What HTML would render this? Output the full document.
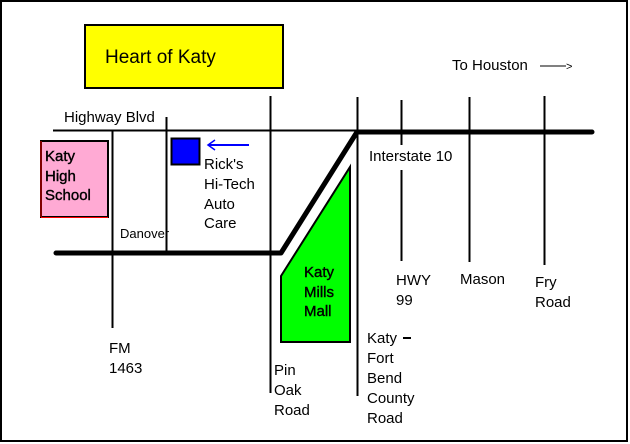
<!DOCTYPE html>
<html><head><meta charset="utf-8"><style>
html,body{margin:0;padding:0;background:#fff;}
svg{display:block;}
text{font-family:"Liberation Sans",Arial,sans-serif;font-size:15px;fill:#000;}
.m{stroke:#000;stroke-width:0.4;}
</style></head><body>
<svg width="630" height="444" viewBox="0 0 630 444" xmlns="http://www.w3.org/2000/svg">
<rect x="0" y="0" width="630" height="444" fill="#fff"/>
<rect x="1" y="1" width="626" height="440" fill="none" stroke="#000" stroke-width="2"/>
<rect x="85" y="25" width="198" height="63" fill="#ffff00" stroke="#000" stroke-width="2"/>
<text x="105" y="63" style="font-size:19px">Heart of Katy</text>
<text x="452" y="70">To Houston</text>
<line x1="540" y1="66" x2="566" y2="66" stroke="#000" stroke-width="1"/>
<text x="566" y="70" style="font-size:11px">&gt;</text>
<text x="64" y="122">Highway Blvd</text>
<line x1="53" y1="130.5" x2="360" y2="130.5" stroke="#000" stroke-width="2"/>
<line x1="112.5" y1="130" x2="112.5" y2="328" stroke="#000" stroke-width="2"/>
<line x1="166.5" y1="117" x2="166.5" y2="253" stroke="#000" stroke-width="2"/>
<line x1="270.5" y1="96" x2="270.5" y2="393" stroke="#000" stroke-width="2"/>
<line x1="357.5" y1="97" x2="357.5" y2="396" stroke="#000" stroke-width="2"/>
<line x1="401.5" y1="100" x2="401.5" y2="145" stroke="#000" stroke-width="2"/>
<line x1="401.5" y1="170" x2="401.5" y2="261" stroke="#000" stroke-width="2"/>
<line x1="469.5" y1="97" x2="469.5" y2="262" stroke="#000" stroke-width="2"/>
<line x1="544.5" y1="96" x2="544.5" y2="265" stroke="#000" stroke-width="2"/>
<polyline points="56,253 281,253 357,132 592,132" fill="none" stroke="#000" stroke-width="5" stroke-linejoin="round" stroke-linecap="round"/>
<rect x="41" y="141" width="67" height="76" fill="#ffaad4" stroke="#000" stroke-width="2"/>
<line x1="41" y1="141" x2="41" y2="217" stroke="#f00" stroke-width="1"/>
<line x1="41" y1="217.5" x2="108" y2="217.5" stroke="#f00" stroke-width="1"/>
<text x="45" y="161" class="m">Katy</text>
<text x="45" y="181" class="m">High</text>
<text x="45" y="200" class="m">School</text>
<rect x="171.5" y="138.5" width="28" height="26" fill="#0000ff" stroke="#000" stroke-width="2"/>
<line x1="208" y1="145" x2="249" y2="145" stroke="#0000ff" stroke-width="2"/>
<polyline points="215,140 208,145 215,150" fill="none" stroke="#0000ff" stroke-width="1.5"/>
<text x="204" y="169">Rick's</text>
<text x="204" y="189">Hi-Tech</text>
<text x="204" y="209">Auto</text>
<text x="204" y="228">Care</text>
<text x="120" y="238" style="font-size:13px">Danover</text>
<polygon points="281,276 350,167 350,342 281,342" fill="#00ff00" stroke="#000" stroke-width="2"/>
<text x="304" y="277" class="m">Katy</text>
<text x="304" y="297" class="m">Mills</text>
<text x="304" y="316" class="m">Mall</text>
<text x="369" y="161">Interstate 10</text>
<text x="396" y="285">HWY</text>
<text x="396" y="305">99</text>
<text x="460" y="284">Mason</text>
<text x="535" y="287">Fry</text>
<text x="535" y="307">Road</text>
<text x="109" y="353">FM</text>
<text x="109" y="373">1463</text>
<text x="274" y="375">Pin</text>
<text x="274" y="395">Oak</text>
<text x="274" y="415">Road</text>
<text x="367" y="343">Katy</text>
<line x1="403" y1="338" x2="411" y2="338" stroke="#000" stroke-width="2"/>
<text x="367" y="363">Fort</text>
<text x="367" y="383">Bend</text>
<text x="367" y="403">County</text>
<text x="367" y="423">Road</text>
</svg>
</body></html>
